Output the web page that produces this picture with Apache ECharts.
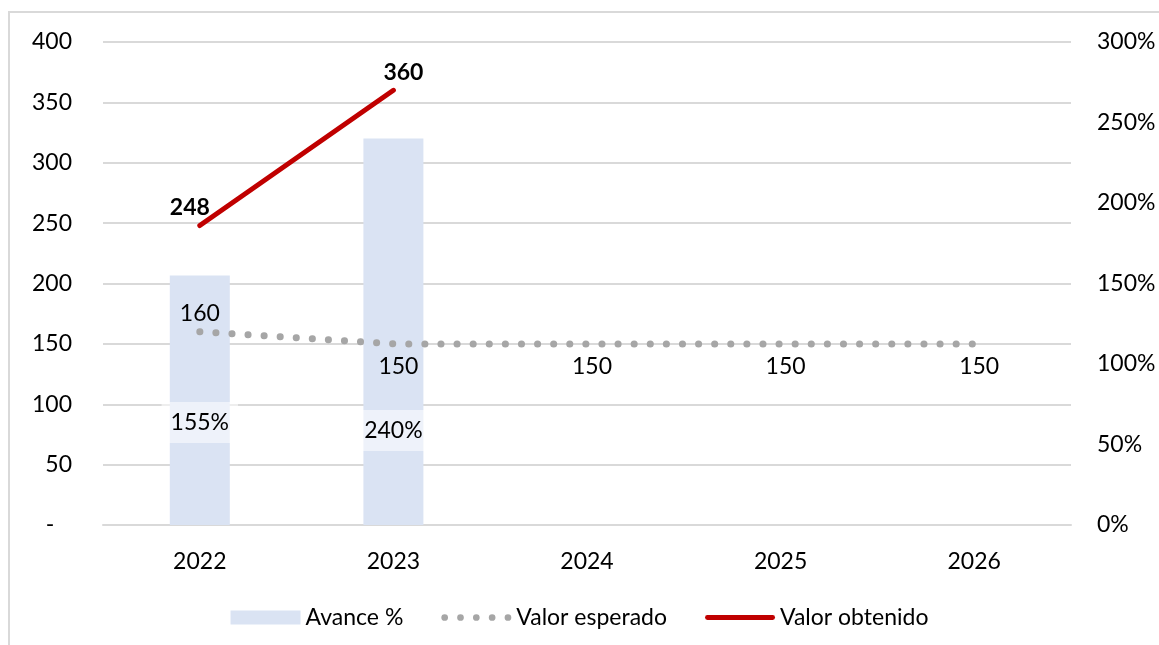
<!DOCTYPE html>
<html>
<head>
<meta charset="utf-8">
<script src="https://cdn.jsdelivr.net/npm/echarts@6/dist/echarts.min.js"></script>
<style>
  body { margin: 0; background: #fff; }
  #chart { position: absolute; left: 0; top: 0; width: 1159px; height: 645px; }
  #frame { position: absolute; left: 8px; top: 11px; width: 1200px; height: 700px;
           border: 2px solid #d9d9d9; box-sizing: border-box; pointer-events: none; }
</style>
</head>
<body>
<div id="frame"></div>
<div id="chart"></div>
<script>
var years = ['2022', '2023', '2024', '2025', '2026'];
var avance = [155, 240, null, null, null];      // %
var esperado = [160, 150, 150, 150, 150];
var obtenido = [248, 360, null, null, null];

var font = 'Lato, "Open Sans", sans-serif';
var fs = 23;
var txt = { color: '#000', fontSize: fs, fontFamily: font };

// legend icons: five dots / thick red line
var dotsIcon = 'path://';
for (var k = 0; k < 5; k++) {
    var cx = 3.5 + k * 16.5;
    dotsIcon += 'M' + (cx - 3.5) + ',3.5a3.5,3.5 0 1,0 7,0a3.5,3.5 0 1,0 -7,0';
}
var lineIcon = 'path://M2.5,0h67a2.5,2.5 0 0,1 0,5h-67a2.5,2.5 0 0,1 0,-5z';

var chart = echarts.init(document.getElementById('chart'));

var option = {
    animation: false,
    textStyle: txt,
    grid: { left: 103, right: 88, top: 42, bottom: 120 },
    legend: {
        bottom: 11,
        left: 'center',
        itemWidth: 70,
        itemHeight: 14,
        itemGap: 38,
        textStyle: txt,
        data: [
            { name: 'Avance %', icon: 'rect', itemStyle: { color: '#dae3f3' } },
            { name: 'Valor esperado', icon: dotsIcon, itemStyle: { color: '#a6a6a6', opacity: 1, borderWidth: 0 } },
            { name: 'Valor obtenido', icon: lineIcon, itemStyle: { color: '#c00000', opacity: 1, borderWidth: 0 } }
        ]
    },
    xAxis: {
        type: 'category',
        data: years,
        axisLine: { lineStyle: { color: '#d9d9d9', width: 2 } },
        axisTick: { show: false },
        axisLabel: Object.assign({ margin: 25 }, txt)
    },
    yAxis: [{
        type: 'value',
        min: 0, max: 400, interval: 50,
        splitLine: { lineStyle: { color: '#d9d9d9', width: 2 } },
        axisLabel: Object.assign({
            margin: 31,
            formatter: function (v) { return v === 0 ? '-   ' : v; }
        }, txt)
    }, {
        type: 'value',
        min: 0, max: 300, interval: 50,
        splitLine: { show: false },
        axisLabel: Object.assign({ margin: 26, formatter: '{value}%' }, txt)
    }],
    series: [{
        name: 'Avance %',
        type: 'bar',
        yAxisIndex: 1,
        barWidth: 60,
        itemStyle: { color: '#dae3f3' },
        data: avance.map(function (v, i) {
            return { value: v, label: { distance: i === 0 ? 82 : 74 } };
        }),
        label: {
            show: true,
            position: 'insideBottom',
            formatter: '{c}%',
            backgroundColor: 'rgba(255,255,255,0.55)',
            padding: [9, 9, 9, 9],
            color: '#000', fontSize: fs, fontFamily: font
        }
    }, {
        name: 'Valor esperado',
        type: 'line',
        symbol: 'circle',
        symbolSize: 1,
        showSymbol: true,
        lineStyle: { color: '#a6a6a6', width: 7, type: [0.1, 16], cap: 'round' },
        itemStyle: { color: 'rgba(0,0,0,0)', borderWidth: 0 },
        data: esperado.map(function (v, i) {
            return {
                value: v,
                label: i === 0
                    ? { position: 'top', distance: 6 }
                    : { position: 'bottom', distance: 11, offset: [5, 0] }
            };
        }),
        label: { show: true, color: '#000', fontSize: fs, fontFamily: font }
    }, {
        name: 'Valor obtenido',
        type: 'line',
        symbol: 'circle',
        symbolSize: 1,
        showSymbol: true,
        lineStyle: { color: '#c00000', width: 5, cap: 'round' },
        itemStyle: { color: 'rgba(0,0,0,0)', borderWidth: 0 },
        data: obtenido.map(function (v, i) {
            return { value: v, label: { offset: i === 0 ? [-10, 0] : [10, 0] } };
        }),
        label: {
            show: true, position: 'top', distance: 6,
            color: '#000', fontSize: fs, fontWeight: 'bold', fontFamily: font
        }
    }]
};

chart.setOption(option);
</script>
</body>
</html>
